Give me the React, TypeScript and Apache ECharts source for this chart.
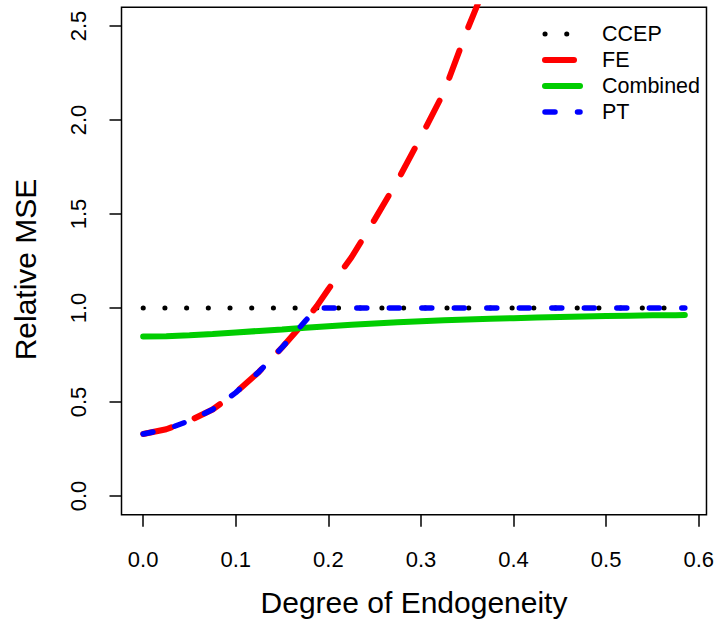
import React, { useEffect, useRef } from "react";
import * as echarts from "echarts";

const FONT = "'Liberation Sans', Arial, Helvetica, sans-serif";

// Degree of endogeneity (x)
const xValues = [
  0, 0.025, 0.05, 0.075, 0.1, 0.125, 0.15, 0.175, 0.1875, 0.2, 0.225, 0.25,
  0.275, 0.3, 0.325, 0.35, 0.375, 0.4, 0.425, 0.45, 0.475, 0.5, 0.525, 0.55,
  0.575, 0.585,
];

// Relative MSE per estimator
const ccepValues = [
  1, 1, 1, 1, 1, 1, 1, 1, 1, 1, 1, 1, 1, 1, 1, 1, 1, 1, 1, 1, 1, 1, 1, 1, 1, 1,
];
const feValues = [
  0.33, 0.355, 0.4, 0.46, 0.55, 0.66, 0.79, 0.93, 1.01, 1.1, 1.27, 1.47, 1.68,
  1.91, 2.15, 2.48, 2.78, 3.1,
];
const combinedValues = [
  0.848, 0.85, 0.855, 0.862, 0.87, 0.878, 0.886, 0.895, 0.899, 0.903, 0.911,
  0.918, 0.924, 0.93, 0.935, 0.939, 0.943, 0.946, 0.949, 0.952, 0.955, 0.957,
  0.959, 0.961, 0.962, 0.963,
];
const ptValues = [
  0.33, 0.355, 0.4, 0.46, 0.55, 0.66, 0.79, 0.93, 1.0, 1, 1, 1, 1, 1, 1, 1, 1,
  1, 1, 1, 1, 1, 1, 1, 1, 1,
];

const xTicks = [0, 0.1, 0.2, 0.3, 0.4, 0.5, 0.6];
const yTicks = [0, 0.5, 1, 1.5, 2, 2.5];
const seriesNames = ["CCEP", "FE", "Combined", "PT"];

const pairs = (ys: number[]) => ys.map((y, i) => [xValues[i], y]);

export default function App() {
  const ref = useRef<HTMLDivElement>(null);
  useEffect(() => {
    document.body.style.margin = "0";
    const chart = echarts.init(ref.current!, null, { renderer: "svg" });
    chart.setOption({
      animation: false,
      textStyle: { fontFamily: FONT, color: "#000" },
      grid: {
        left: 121.5,
        right: 9,
        top: 7.2,
        bottom: 113.2,
        show: true,
        borderColor: "#000",
        borderWidth: 1.5,
        backgroundColor: "transparent",
      },
      xAxis: {
        type: "value",
        min: -0.0234,
        max: 0.6084,
        splitLine: { show: false },
        axisLine: { show: false, onZero: false },
        axisTick: {
          show: true,
          inside: false,
          length: 12,
          customValues: xTicks,
          lineStyle: { color: "#000", width: 1.5 },
        },
        axisLabel: {
          customValues: xTicks,
          formatter: (v: number) => v.toFixed(1),
          fontSize: 22,
          color: "#000",
          fontFamily: FONT,
          margin: 34,
        },
        name: "Degree of Endogeneity",
        nameLocation: "middle",
        nameGap: 73,
        nameTextStyle: { fontSize: 30, color: "#000", fontFamily: FONT },
      },
      yAxis: {
        type: "value",
        min: -0.1,
        max: 2.6,
        splitLine: { show: false },
        axisLine: { show: false, onZero: false },
        axisTick: {
          show: true,
          inside: false,
          length: 12,
          customValues: yTicks,
          lineStyle: { color: "#000", width: 1.5 },
        },
        axisLabel: {
          customValues: yTicks,
          formatter: (v: number) => v.toFixed(1),
          fontSize: 22,
          color: "#000",
          fontFamily: FONT,
          rotate: 90,
          margin: 32,
        },
        name: "Relative MSE",
        nameLocation: "middle",
        nameRotate: 90,
        nameGap: 81,
        nameTextStyle: {
          fontSize: 30,
          color: "#000",
          fontFamily: FONT,
          padding: [0, 17, 0, 0],
        },
      },
      legend: {
        orient: "vertical",
        left: 542,
        top: 21,
        padding: 0,
        itemWidth: 35,
        itemHeight: 26,
        itemGap: 0,
        selectedMode: false,
        data: seriesNames,
        itemStyle: { opacity: 0 },
        lineStyle: { width: "inherit", type: "inherit", cap: "round" },
        textStyle: {
          fontSize: 21.5,
          color: "#000",
          fontFamily: FONT,
          lineHeight: 26,
          padding: [0, 0, 0, 17],
        },
      },
      series: [
        {
          name: seriesNames[0],
          type: "line",
          data: pairs(ccepValues),
          symbol: "none",
          itemStyle: { color: "#000" },
          lineStyle: { color: "#000", width: 5, type: [0.1, 21.6], cap: "round" },
          z: 2,
        },
        {
          name: seriesNames[1],
          type: "line",
          data: pairs(feValues),
          symbol: "none",
          itemStyle: { color: "#ff0000" },
          lineStyle: { color: "#ff0000", width: 6, type: [29, 25], cap: "round" },
          z: 3,
        },
        {
          name: seriesNames[2],
          type: "line",
          data: pairs(combinedValues),
          symbol: "none",
          itemStyle: { color: "#00cd00" },
          lineStyle: { color: "#00cd00", width: 6, cap: "round" },
          z: 4,
        },
        {
          name: seriesNames[3],
          type: "line",
          data: pairs(ptValues),
          symbol: "none",
          itemStyle: { color: "#0000ff" },
          lineStyle: { color: "#0000ff", width: 5.5, type: [10, 22.5], cap: "round" },
          z: 5,
        },
      ],
    });
    return () => chart.dispose();
  }, []);
  return <div ref={ref} style={{ width: 717, height: 628 }} />;
}
